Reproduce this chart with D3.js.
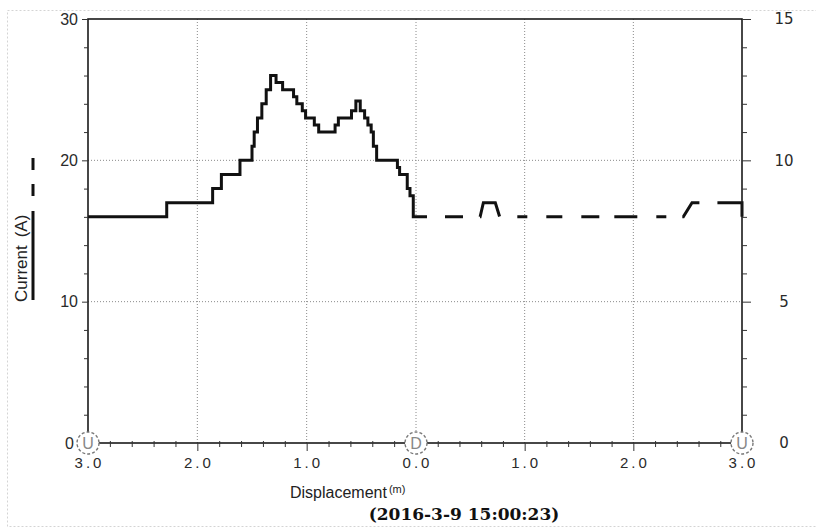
<!DOCTYPE html>
<html><head><meta charset="utf-8">
<script src="https://cdn.jsdelivr.net/npm/d3@7"></script>
<style>body{margin:0;background:#fff}svg{display:block}</style>
</head><body>
<svg id="c" width="816" height="529"></svg>
<script>
// ---- data ----
const leftTicks = [0, 10, 20, 30];          // Current (A)
const rightTicks = [0, 5, 10, 15];
const xTicksUp = [3, 2, 1, 0];               // displacement, up stroke (left half)
const xTicksDown = [1, 2, 3];                // displacement, down stroke (right half)
// solid trace (left half): step starts (displacement m) and current (A)
const solidDisp =    [3.00, 2.28, 1.86, 1.78, 1.61, 1.50, 1.48, 1.45, 1.41, 1.37, 1.33, 1.28, 1.22, 1.12, 1.09, 1.04, 1.01, 0.93, 0.89, 0.74, 0.71, 0.59, 0.55, 0.51, 0.47, 0.44, 0.41, 0.39, 0.36, 0.17, 0.15, 0.08, 0.055, 0.025, 0.0];
const solidCurrent = [16,   17,   18,   19,   20,   21,   22,   23,   24,   25,   26,   25.5, 25,   24.5, 24,   23.5, 23,   22.5, 22,   22.5, 23,   23.5, 24.2, 23.5, 23,   22.5, 22,   21,   20,   19.5, 19,   18,   17.5, 16,   16];
// dashed trace (right half)
const dashDisp =    [0.0, 0.59, 0.62, 0.73, 0.77, 2.46, 2.54, 3.0, 3.0];
const dashCurrent = [16,  16,   17,   17,   16,   16,   17,   17,  16];
const markers = [{half: "up", d: 3, label: "U"}, {half: "up", d: 0, label: "D"}, {half: "down", d: 3, label: "U"}];

// ---- layout ----
const L = 88, M = 416, R = 742, T = 19, B = 443;
const svg = d3.select("#c");
const xUp = d3.scaleLinear().domain([3, 0]).range([L, M]);
const xDown = d3.scaleLinear().domain([0, 3]).range([M, R]);
const yL = d3.scaleLinear().domain([0, 30]).range([B, T]);
const yR = d3.scaleLinear().domain([0, 15]).range([B, T]);

// outer dashed border
svg.append("rect").attr("x", 7.5).attr("y", 10.5).attr("width", 820).attr("height", 516)
  .attr("fill", "none").attr("stroke", "#d4d4d4").attr("stroke-dasharray", "2,2");

// grid
const g = svg.append("g");
const gx = [...xTicksUp.filter(d => d > 0 && d < 3).map(d => xUp(d)), xUp(0), ...xTicksDown.filter(d => d < 3).map(d => xDown(d))];
g.selectAll(".vg").data(gx).join("line")
  .attr("x1", d => d).attr("x2", d => d).attr("y1", T).attr("y2", B)
  .attr("stroke", "#8a8a8a").attr("stroke-dasharray", "1,2");
g.selectAll(".hg").data(leftTicks.filter(v => v > 0 && v < 30)).join("line")
  .attr("x1", L).attr("x2", R).attr("y1", d => yL(d)).attr("y2", d => yL(d))
  .attr("stroke", "#8a8a8a").attr("stroke-dasharray", "1,2");

// traces
const solidData = solidDisp.map((d, i) => [d, solidCurrent[i]]);
const dashData = dashDisp.map((d, i) => [d, dashCurrent[i]]);
svg.append("path")
  .attr("d", d3.line().x(d => xUp(d[0])).y(d => yL(d[1])).curve(d3.curveStepAfter)(solidData))
  .attr("fill", "none").attr("stroke", "#111").attr("stroke-width", 3);
svg.append("path")
  .attr("d", d3.line().x(d => xDown(d[0])).y(d => yL(d[1]))(dashData))
  .attr("fill", "none").attr("stroke", "#111").attr("stroke-width", 3)
  .attr("stroke-dasharray", "11,18,18,17,41,18,10,19,16,19,18,15,23,19,10,16,25,18,40,10");

// frame
svg.append("rect").attr("x", L).attr("y", T).attr("width", R - L).attr("height", B - T)
  .attr("fill", "none").attr("stroke", "#1a1a1a").attr("stroke-width", 1.6);

// ticks
function tickStyle(sel) { sel.select(".domain").remove(); sel.selectAll("line").attr("stroke", "#333"); sel.selectAll("text").remove(); }
svg.append("g").attr("transform", `translate(${L},0)`)
  .call(d3.axisLeft(yL).tickValues(leftTicks).tickSize(6)).call(tickStyle);
svg.append("g").attr("transform", `translate(${L},0)`)
  .call(d3.axisLeft(yL).tickValues(d3.range(2, 30, 2).filter(v => v % 10)).tickSize(4)).call(tickStyle);
svg.append("g").attr("transform", `translate(${R},0)`)
  .call(d3.axisRight(yR).tickValues(rightTicks).tickSize(9)).call(tickStyle);
svg.append("g").attr("transform", `translate(${R},0)`)
  .call(d3.axisRight(yR).tickValues(d3.range(1, 15).filter(v => v % 5)).tickSize(5)).call(tickStyle);
svg.append("g").attr("transform", `translate(0,${B})`)
  .call(d3.axisBottom(xUp).tickValues(xTicksUp).tickSize(8)).call(tickStyle);
svg.append("g").attr("transform", `translate(0,${B})`)
  .call(d3.axisBottom(xDown).tickValues(xTicksDown).tickSize(8)).call(tickStyle);
svg.append("g").attr("transform", `translate(0,${B - 2})`)
  .call(d3.axisBottom(xUp).tickValues(d3.range(0.2, 3, 0.2).filter(v => Math.abs(v - Math.round(v)) > 0.01)).tickSize(6)).call(tickStyle);
svg.append("g").attr("transform", `translate(0,${B - 2})`)
  .call(d3.axisBottom(xDown).tickValues(d3.range(0.2, 3, 0.2).filter(v => Math.abs(v - Math.round(v)) > 0.01)).tickSize(6)).call(tickStyle);

// tick labels
const font = "'Liberation Sans', Arial, sans-serif";
svg.selectAll(".ll").data(leftTicks).join("text")
  .attr("x", d => d === 0 ? 74 : 78).attr("y", d => yL(d)).attr("dy", "0.36em")
  .attr("text-anchor", "end").attr("font-family", font).attr("font-size", 16).attr("fill", "#2a2a2a")
  .text(d => d);
svg.selectAll(".rl").data(rightTicks).join("text")
  .attr("x", 784).attr("y", d => yR(d)).attr("dy", "0.36em")
  .attr("text-anchor", "middle").attr("font-family", "'DejaVu Sans', sans-serif").attr("font-size", 15).attr("fill", "#2a2a2a")
  .text(d => d);
const xLabels = [...xTicksUp.map(d => ({x: xUp(d), t: d.toFixed(1)})), ...xTicksDown.map(d => ({x: xDown(d), t: d.toFixed(1)}))];
svg.selectAll(".xl").data(xLabels).join("text")
  .attr("x", d => d.x + 1.5).attr("y", 468)
  .attr("text-anchor", "middle").attr("font-family", font).attr("font-size", 15).attr("letter-spacing", 3).attr("fill", "#2a2a2a")
  .text(d => d.t);

// U / D markers
const mk = svg.selectAll(".mk").data(markers).join("g")
  .attr("transform", d => `translate(${d.half === "up" ? xUp(d.d) : xDown(d.d)},${B})`);
mk.append("circle").attr("r", 11).attr("fill", "#fff").attr("stroke", "#777")
  .attr("stroke-width", 1.4).attr("stroke-dasharray", "3,2");
mk.append("text").attr("y", 6).attr("text-anchor", "middle").attr("font-family", font)
  .attr("font-size", 16).attr("fill", "#888").text(d => d.label);

// axis titles
const xt = svg.append("text").attr("x", 290).attr("y", 498).attr("font-family", font)
  .attr("font-size", 16).attr("fill", "#222");
xt.append("tspan").text("Displacement");
xt.append("tspan").attr("dx", 2).attr("dy", -5).attr("font-size", 11).text("(m)");
svg.append("text").attr("x", 464).attr("y", 520).attr("text-anchor", "middle")
  .attr("font-family", "'DejaVu Serif', serif").attr("font-weight", "bold").attr("font-size", 17).attr("fill", "#111")
  .text("(2016-3-9 15:00:23)");

const yt = svg.append("text").attr("transform", "translate(27,302) rotate(-90)")
  .attr("font-family", font).attr("font-size", 17).attr("fill", "#222");
yt.append("tspan").text("Current");
yt.append("tspan").attr("dx", 8).text("(A)");
// legend strokes beside title
svg.append("line").attr("x1", 33).attr("x2", 33).attr("y1", 211).attr("y2", 300)
  .attr("stroke", "#111").attr("stroke-width", 3);
svg.append("line").attr("x1", 33).attr("x2", 33).attr("y1", 158).attr("y2", 204)
  .attr("stroke", "#111").attr("stroke-width", 3).attr("stroke-dasharray", "12,14");
</script>
</body></html>
